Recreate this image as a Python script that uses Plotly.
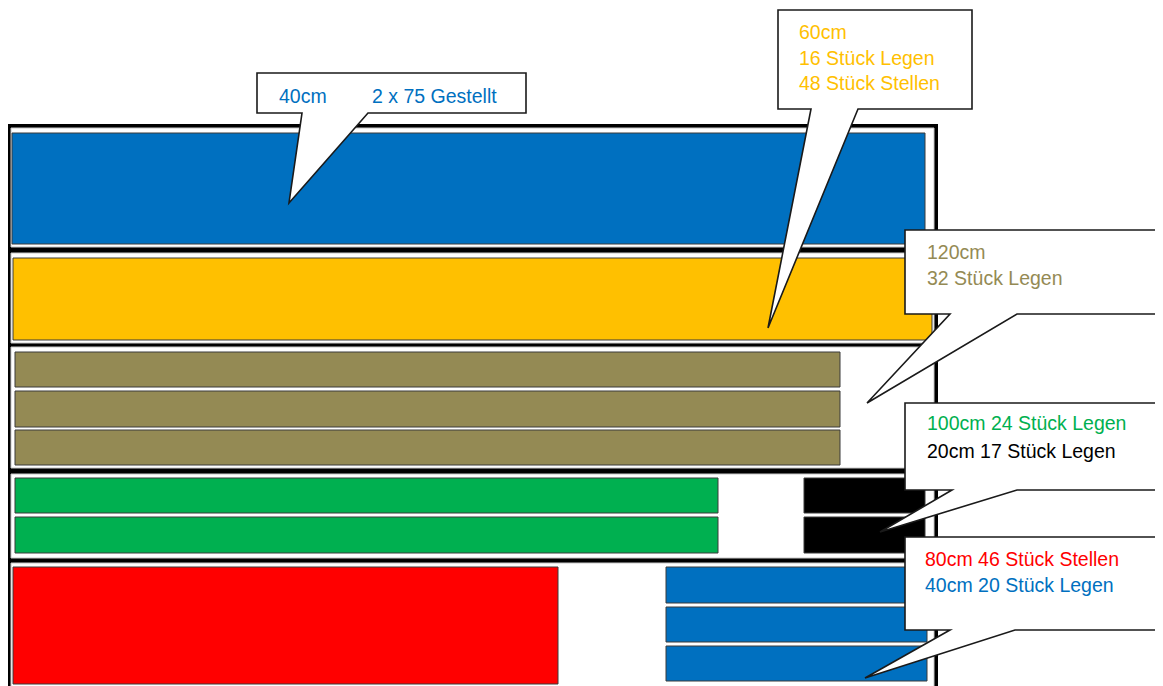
import plotly.graph_objects as go

W, H = 1163, 686
PAGE_MARGIN = 8  # default body margin of the html page

# ---- data (diagram geometry in pixel units of the drawing) ----
frame_extent = [7, 938, 124, 700]            # x0, x1, y0, y1 of the outer rack frame
cell_x = [11, 934]
cell_y0 = [128, 253, 347, 474, 563]
cell_y1 = [247, 343, 468, 558, 700]

bar_names = ["40cm", "60cm", "120cm a", "120cm b", "120cm c", "100cm a", "100cm b",
             "20cm a", "20cm b", "80cm", "40cm a", "40cm b", "40cm c"]
bar_x0 = [12, 13, 15, 15, 15, 15, 15, 804, 804, 13, 666, 666, 666]
bar_x1 = [925, 932, 840, 840, 840, 718, 718, 925, 925, 558, 927, 927, 927]
bar_y0 = [133, 258, 352, 391, 430, 478, 517, 478, 517, 567, 567, 607, 646]
bar_y1 = [244, 340, 387, 427, 465, 513, 553, 513, 553, 684, 603, 642, 681]
bar_colors = ["#0070C0", "#FFC000", "#948A54", "#948A54", "#948A54", "#00B050", "#00B050",
              "#000000", "#000000", "#FF0000", "#0070C0", "#0070C0", "#0070C0"]

box_x0 = [257, 778, 905, 905, 905]
box_x1 = [526, 972, 1175, 1175, 1175]
box_y0 = [73, 10, 230, 403, 537]
box_y1 = [113, 109, 314, 490, 630]
ptr_left = [302, 811, 950, 952, 950]
ptr_right = [368, 858, 1017, 1017, 1015]
tip_x = [289, 768, 867, 880, 865]
tip_y = [203, 328, 403, 532, 678]

label_text = ["40cm", "2 x 75 Gestellt", "60cm", "16 Stück Legen", "48 Stück Stellen",
              "120cm", "32 Stück Legen", "100cm 24 Stück Legen", "20cm 17 Stück Legen",
              "80cm 46 Stück Stellen", "40cm 20 Stück Legen"]
label_x = [277, 370, 797, 797, 797, 925, 925, 925, 925, 923, 923]
label_y = [96, 96, 32, 58, 83, 252, 278, 423, 451, 559, 585]
label_color = ["#0070C0", "#0070C0", "#FFC000", "#FFC000", "#FFC000", "#948A54", "#948A54",
               "#00B050", "#000000", "#FF0000", "#0070C0"]

# ---- figure ----
fig = go.Figure()
shapes = []

# outer black frame
shapes.append(dict(type="rect", xref="x", yref="y",
                   x0=frame_extent[0], x1=frame_extent[1], y0=frame_extent[2], y1=frame_extent[3],
                   fillcolor="#000000", line=dict(width=0), layer="above"))
# white cells (rows)
for y0, y1 in zip(cell_y0, cell_y1):
    shapes.append(dict(type="rect", xref="x", yref="y", x0=cell_x[0], x1=cell_x[1], y0=y0, y1=y1,
                       fillcolor="#FFFFFF", line=dict(color="#C8C8C8", width=1), layer="above"))
# bars
for x0, x1, y0, y1, c in zip(bar_x0, bar_x1, bar_y0, bar_y1, bar_colors):
    shapes.append(dict(type="rect", xref="x", yref="y", x0=x0, x1=x1, y0=y0, y1=y1,
                       fillcolor=c, line=dict(color="#3A3A3A", width=1), layer="above"))
# callouts
for bx0, bx1, by0, by1, pl, pr, tx, ty in zip(box_x0, box_x1, box_y0, box_y1,
                                              ptr_left, ptr_right, tip_x, tip_y):
    path = (f"M {bx0},{by0} L {bx1},{by0} L {bx1},{by1} L {pr},{by1} "
            f"L {tx},{ty} L {pl},{by1} L {bx0},{by1} Z")
    shapes.append(dict(type="path", xref="x", yref="y", path=path,
                       fillcolor="#FFFFFF", line=dict(color="#1A1A1A", width=1.6), layer="above"))

annotations = []
for t, x, y, c in zip(label_text, label_x, label_y, label_color):
    annotations.append(dict(x=x, y=y, xref="x", yref="y", text=t, showarrow=False,
                            xanchor="left", yanchor="middle",
                            font=dict(family="Liberation Sans, Arial, sans-serif", size=19.5, color=c)))

fig.update_layout(
    width=W - PAGE_MARGIN, height=H - PAGE_MARGIN,
    margin=dict(l=0, r=0, t=0, b=0),
    paper_bgcolor="#FFFFFF", plot_bgcolor="#FFFFFF",
    xaxis=dict(range=[PAGE_MARGIN, W], visible=False, fixedrange=True),
    yaxis=dict(range=[H, PAGE_MARGIN], visible=False, fixedrange=True),
    shapes=shapes, annotations=annotations,
    showlegend=False,
)

fig.write_html("out.html")
